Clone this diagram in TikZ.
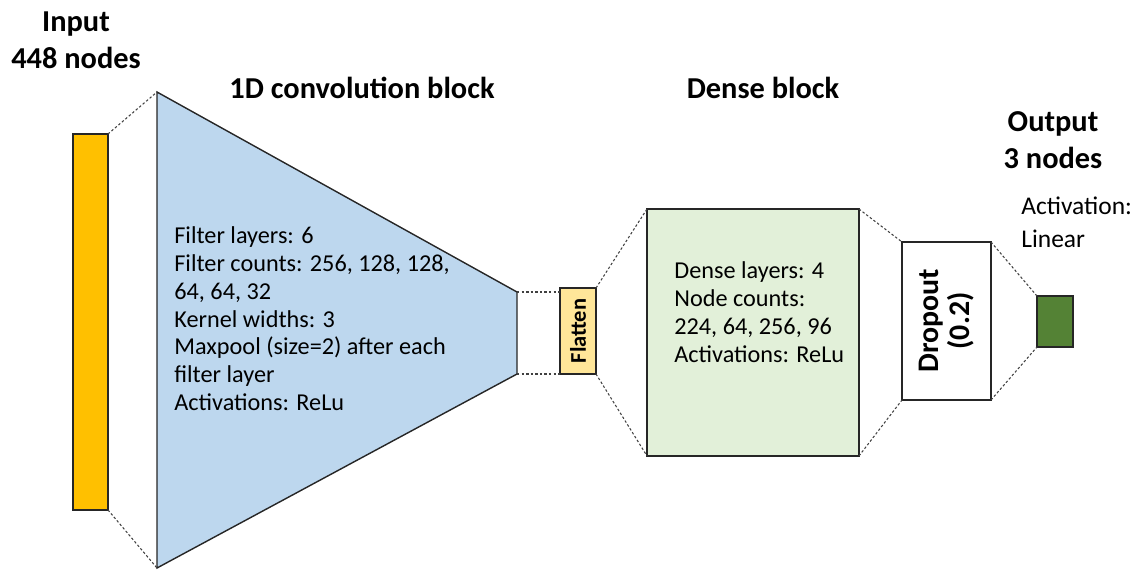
\documentclass[tikz,border=0pt]{standalone}
\usepackage{fontspec}
\setmainfont{Carlito}
\usepackage{xcolor}
\usetikzlibrary{positioning}

\definecolor{inyellow}{HTML}{FFC000}
\definecolor{convblue}{HTML}{BDD7EE}
\definecolor{flatyellow}{HTML}{FFE699}
\definecolor{densegreen}{HTML}{E2F0D9}
\definecolor{outgreen}{HTML}{548235}

\tikzset{
  layer/.style={rectangle, draw=black!85, line width=0.8pt, inner sep=0pt, outer sep=0pt, anchor=north west},
  link/.style={black!75, line width=0.6pt, dash pattern=on 1.4pt off 1.2pt},
  title/.style={font=\fontsize{17.3}{21}\selectfont\bfseries, align=center, inner sep=0pt},
  info/.style={font=\fontsize{13.8}{15.9}\selectfont, align=left, anchor=north west, inner sep=0pt},
}

\begin{document}
\begin{tikzpicture}[x=0.02cm, y=-0.02cm]
    \useasboundingbox (0,0) rectangle (1146,569);

    % Entrada
    \node[layer, fill=inyellow, minimum width=0.70cm, minimum height=7.52cm] (inp) at (73,134) {};
    \node[title] (inptxt) at (76,40) {Input\\448 nodes};

    % Bloque de convolucion
    \coordinate (c1) at (157,92);
    \coordinate (c2) at (517,292);
    \coordinate (c3) at (517,374);
    \coordinate (c4) at (157,568);
    \draw[fill=convblue, draw=black!85, line width=0.8pt] (c1) -- (c2) -- (c3) -- (c4) -- cycle;
    \node[title] (convtxt) at (362,88) {1D convolution block};
    \node[info] (convinfo) at (174,226) {Filter layers: 6\\Filter counts: 256, 128, 128,\\64, 64, 32\\Kernel widths: 3\\Maxpool (size=2) after each\\filter layer\\Activations: ReLu};

    % Flatten
    \node[layer, fill=flatyellow, minimum width=0.72cm, minimum height=1.72cm] (flat) at (560,288) {};
    \node[rotate=90, font=\fontsize{12.8}{14}\selectfont\bfseries, inner sep=0pt] (flattxt) at (flat.center) {Flatten};

    % Bloque denso
    \node[layer, fill=densegreen, minimum width=4.24cm, minimum height=4.94cm] (dense) at (647,209) {};
    \node[title] (densetxt) at (763,88) {Dense block};
    \node[info] (denseinfo) at (674,261) {Dense layers: 4\\Node counts:\\224, 64, 256, 96\\Activations: ReLu};

    % Dropout
    \node[layer, fill=white, minimum width=1.78cm, minimum height=3.16cm] (drop) at (902,242) {};
    \node[rotate=90, align=center, font=\fontsize{17}{17.5}\selectfont\bfseries, inner sep=0pt] (droptxt) at (drop.center) {Dropout\\(0.2)};

    % Salida
    \node[layer, fill=outgreen, minimum width=0.72cm, minimum height=1.02cm] (out) at (1037,296) {};
    \node[title] (outtxt) at (1053,140) {Output\\3 nodes};
    \node[info, font=\fontsize{14.5}{18.7}\selectfont] (outinfo) at (1021,197) {Activation:\\Linear};

    % Conexiones
    \draw[link] (inp.north east) -- (c1);
    \draw[link] (inp.south east) -- (c4);
    \draw[link] (c2) -- (c2 -| flat.west);
    \draw[link] (c3) -- (c3 -| flat.west);
    \draw[link] (flat.north east) -- (dense.north west);
    \draw[link] (flat.south east) -- (dense.south west);
    \draw[link] (dense.north east) -- (drop.north west);
    \draw[link] (dense.south east) -- (drop.south west);
    \draw[link] (drop.north east) -- (out.north west);
    \draw[link] (drop.south east) -- (out.south west);

\end{tikzpicture}
\end{document}
